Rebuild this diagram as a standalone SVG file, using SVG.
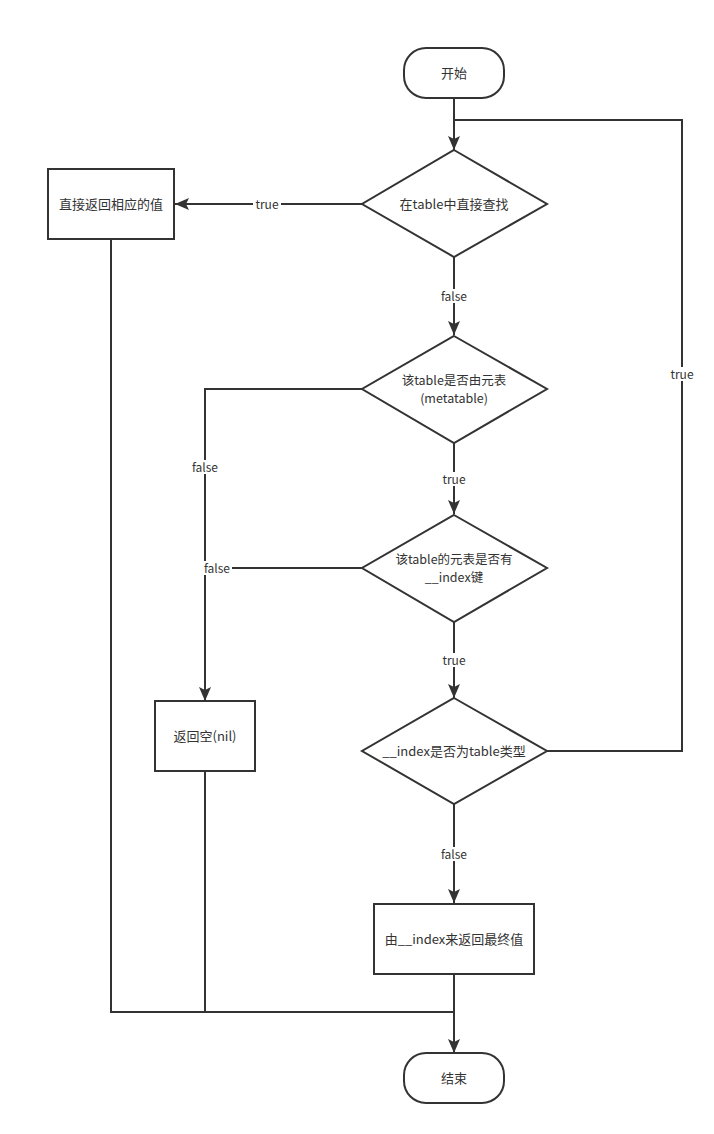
<svg xmlns="http://www.w3.org/2000/svg" width="714" height="1134" viewBox="0 0 714 1134">
<defs>
<marker id="arr" markerUnits="userSpaceOnUse" markerWidth="16" markerHeight="12" refX="14" refY="6" orient="auto">
<path d="M0,0 L14,6 L0,12 L3,6 Z" fill="#333"/>
</marker>
<style>
.node{fill:#fff;stroke:#333;stroke-width:2}
.edge{fill:none;stroke:#333;stroke-width:2}
.t{font-family:"Noto Sans CJK SC","Noto Sans",sans-serif;font-size:13px;fill:#333;text-anchor:middle;dominant-baseline:central}
.t2{font-family:"Noto Sans CJK SC","Noto Sans",sans-serif;font-size:12.5px;fill:#333;text-anchor:middle}
.lbl{font-family:"Noto Sans CJK SC","Noto Sans",sans-serif;font-size:12px;fill:#333;text-anchor:middle;dominant-baseline:central}
.bg{fill:#fff}
</style>
</defs>
<rect width="714" height="1134" fill="#fff"/>
<g id="connectors">
<path class="edge" d="M454,98 V150" marker-end="url(#arr)"/>
<path class="edge" d="M362,204 H175" marker-end="url(#arr)"/>
<path class="edge" d="M454,257 V335" marker-end="url(#arr)"/>
<path class="edge" d="M454,443 V514" marker-end="url(#arr)"/>
<path class="edge" d="M454,622 V698" marker-end="url(#arr)"/>
<path class="edge" d="M454,804 V903" marker-end="url(#arr)"/>
<path class="edge" d="M362,389 H205 V701" marker-end="url(#arr)"/>
<path class="edge" d="M362,568 H205"/>
<path class="edge" d="M547,751 H682 V120 H454"/>
<path class="edge" d="M111,239 V1012 H454"/>
<path class="edge" d="M205,771 V1012"/>
<path class="edge" d="M454,974 V1053" marker-end="url(#arr)"/>
<g id="labels">
<rect class="bg" x="253" y="197" width="28" height="14"/><text class="lbl" x="267" y="203.5">true</text>
<rect class="bg" x="439" y="289" width="30" height="14"/><text class="lbl" x="454" y="295.5">false</text>
<rect class="bg" x="190" y="460" width="30" height="14"/><text class="lbl" x="205" y="466.5">false</text>
<rect class="bg" x="202" y="561" width="30" height="14"/><text class="lbl" x="217" y="567.5">false</text>
<rect class="bg" x="441" y="472" width="26" height="14"/><text class="lbl" x="454" y="478.5">true</text>
<rect class="bg" x="441" y="653" width="26" height="14"/><text class="lbl" x="454" y="659.5">true</text>
<rect class="bg" x="439" y="847" width="30" height="14"/><text class="lbl" x="454" y="853.5">false</text>
<rect class="bg" x="668" y="367" width="28" height="14"/><text class="lbl" x="682" y="373.5">true</text>
</g>
</g>
<g id="start"><rect class="node" x="404" y="48" width="100" height="50" rx="22" ry="22"/><text class="t" x="454" y="72.5">开始</text></g>
<g id="d1"><polygon class="node" points="454,150 547,204 454,257 362,204"/><text class="t" x="454" y="203.5">在table中直接查找</text></g>
<g id="b1"><rect class="node" x="48" y="169" width="126" height="70"/><text class="t" x="111" y="203.5">直接返回相应的值</text></g>
<g id="d2"><polygon class="node" points="454,336 547,389 454,443 362,389"/><text class="t2" x="454" y="385">该table是否由元表<tspan x="454" dy="18">(metatable)</tspan></text></g>
<g id="d3"><polygon class="node" points="454,515 547,568 454,622 362,568"/><text class="t2" x="454" y="564">该table的元表是否有<tspan x="454" dy="18">__index键</tspan></text></g>
<g id="b2"><rect class="node" x="155" y="701" width="100" height="70"/><text class="t" x="205" y="735.5">返回空(nil)</text></g>
<g id="d4"><polygon class="node" points="454,698 547,751 454,804 362,751"/><text class="t" x="454" y="750.5">__index是否为table类型</text></g>
<g id="b3"><rect class="node" x="374" y="904" width="160" height="70"/><text class="t" x="454" y="938.5">由__index来返回最终值</text></g>
<g id="end"><rect class="node" x="404" y="1053" width="100" height="50" rx="22" ry="22"/><text class="t" x="454" y="1077.5">结束</text></g>
</svg>
